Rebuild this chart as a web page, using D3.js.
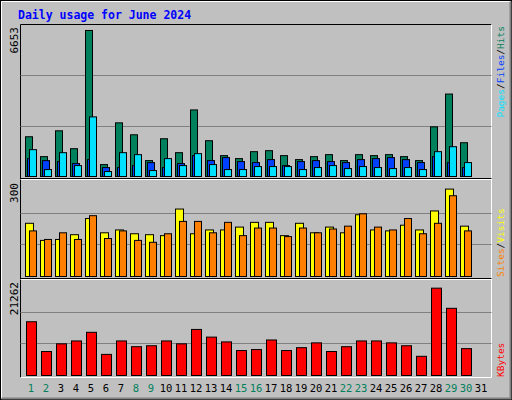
<!DOCTYPE html>
<html><head><meta charset="utf-8">
<script src="https://cdn.jsdelivr.net/npm/d3@7"></script>
<style>body{margin:0;background:#fff}svg{display:block}</style>
</head><body><svg id="c" width="512" height="400"></svg>
<script>
const days = d3.range(1, 32);
const weekendDays = [1,2,8,9,15,16,22,23,29,30];
const hits  = [1751,875,2013,1225,6434,525,2364,1838,700,1663,1050,2933,1576,919,788,1094,1138,919,744,875,963,700,963,919,963,875,700,2188,3633,1488];
const files = [788,700,657,569,744,394,394,481,613,394,569,919,700,832,657,613,744,481,657,700,657,613,744,788,832,744,613,875,613,394];
const pages = [1182,306,1050,481,2626,219,1050,963,263,788,481,1007,525,306,306,438,438,438,306,394,481,350,438,394,350,394,306,1094,1313,613];
const sites = [168,114,117,132,183,138,147,135,132,129,213,135,147,147,156,171,171,129,168,138,156,138,195,147,144,162,147,207,276,159];
const visits= [144,117,138,117,192,120,144,114,108,135,174,174,138,171,129,153,153,126,153,138,150,159,198,156,147,183,135,168,255,144];
const kbytes= [12029,5370,7088,7733,9666,4726,7733,6444,6659,7733,7088,10310,8592,7518,5585,5800,7948,5585,6229,7303,5370,6444,7733,7733,7303,6659,4296,19547,15036,6014];
const maxLabels = ["6653","300","21262"];
const title = "Daily usage for June 2024";

const svg = d3.select("#c");
const mono = "'DejaVu Sans Mono', monospace";
svg.append("rect").attr("width",512).attr("height",400).attr("fill","#c0c0c0");
svg.append("rect").attr("x",0.5).attr("y",0.5).attr("width",511).attr("height",399).attr("fill","none").attr("stroke","#000");
svg.append("path").attr("d","M1.5,398.5V1.5H510.5").attr("fill","none").attr("stroke","#fff");
svg.append("path").attr("d","M1.5,398.5H510.5V1.5").attr("fill","none").attr("stroke","#808080").attr("stroke-width",2);
svg.append("text").attr("x",18).attr("y",19).attr("font-family",mono).attr("font-weight","bold")
  .attr("font-size",11.5).attr("fill","#0000ff").text(title);

const x = d3.scaleLinear().domain([1,31]).range([25,475]);
const L = 20.5, R = 491.5;
const panels = [
  {top:25, base:176, max:6653, label:maxLabels[0]},
  {top:181, base:276, max:300, label:maxLabels[1]},
  {top:280, base:375, max:21262, label:maxLabels[2]},
];
svg.append("rect").attr("x",L).attr("y",24.5).attr("width",R-L).attr("height",352)
  .attr("fill","#c0c0c0").attr("stroke","none");
svg.append("path").attr("d",`M${L},377.5V24.5H${R}`).attr("fill","none").attr("stroke","#000");
svg.append("path").attr("d",`M${L},377.5H${R}V24.5`).attr("fill","none").attr("stroke","#fff");
[178.5,278.5].forEach(yy=>{
  svg.append("line").attr("x1",L).attr("x2",R).attr("y1",yy).attr("y2",yy).attr("stroke","#000");
  svg.append("line").attr("x1",L).attr("x2",R).attr("y1",yy+1).attr("y2",yy+1).attr("stroke","#fff");
});
panels.forEach(p=>{
  p.y = d3.scaleLinear().domain([0,p.max]).range([p.base, p.top]);
  [1/3,2/3].forEach(f=>{
    const yy = Math.round(p.y(p.max*f))+0.5;
    svg.append("line").attr("x1",L).attr("x2",R).attr("y1",yy).attr("y2",yy).attr("stroke","#808080");
  });
  svg.append("text").attr("transform",`translate(18,${p.top+2}) rotate(-90)`).attr("text-anchor","end")
    .attr("font-family",mono).attr("font-size",11).attr("fill","#000").text(p.label);
});
function bars(data, p, off, w, color){
  svg.append("g").selectAll("rect").data(data).join("rect")
    .attr("x",(d,i)=>x(i+1)+off+0.5).attr("y",d=>p.y(d)+0.5)
    .attr("width",w).attr("height",d=>p.base-p.y(d))
    .attr("fill",color).attr("stroke","#000").attr("stroke-width",1);
}
bars(hits, panels[0], 0, 7, "#00805c");
bars(files, panels[0], 2, 7, "#0040ff");
bars(pages, panels[0], 4, 7, "#00e0ff");
bars(sites, panels[1], 0, 8, "#ffff00");
bars(visits, panels[1], 4, 7, "#ff8000");
bars(kbytes, panels[2], 1, 10, "#ff0000");

svg.append("g").selectAll("text").data(days).join("text")
  .attr("x",d=>x(d)+6).attr("y",392).attr("text-anchor","middle")
  .attr("font-family",mono).attr("font-size",10.5)
  .attr("fill",d=>weekendDays.includes(d)?"#00805c":"#000").text(d=>d);

function rlabel(parts, pos, anchor){
  const t = svg.append("text").attr("transform",`translate(504,${pos}) rotate(-90)`).attr("text-anchor",anchor)
    .attr("font-family",mono).attr("font-size",9.5);
  parts.forEach(([s,c])=>t.append("tspan").attr("fill",c).text(s));
}
rlabel([["Pages","#00e0ff"],["/","#000"],["Files","#0040ff"],["/","#000"],["Hits","#00805c"]], 26, "end");
rlabel([["Sites","#ff8000"],["/","#000"],["Visits","#ffff00"]], 277, "start");
rlabel([["KBytes","#ff0000"]], 377, "start");
</script></body></html>
